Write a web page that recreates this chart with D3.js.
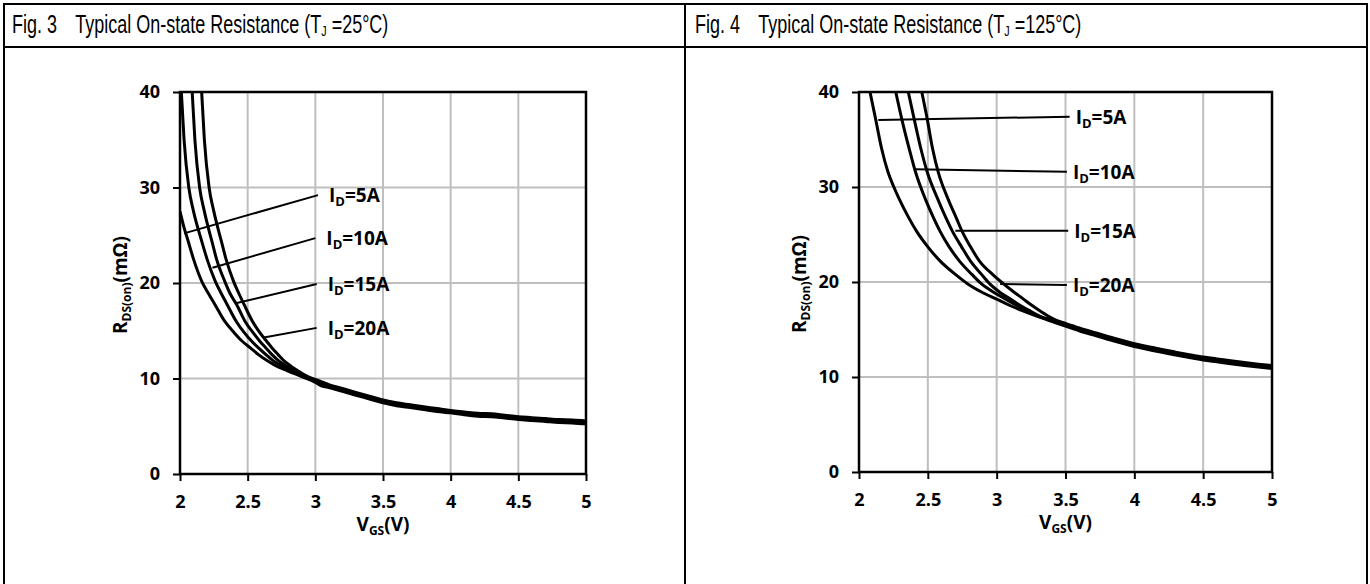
<!doctype html>
<html>
<head>
<meta charset="UTF-8">
<title>Typical On-state Resistance</title>
<script src="https://cdn.jsdelivr.net/npm/d3@7"></script>
<style>
body { margin: 0; background: #fff; }
.tick text { font-family: "Open Sans", sans-serif; font-weight: bold; font-size: 18px; fill: #000; }
.tick line { stroke: #000; stroke-width: 2; }
.grid line { stroke: #bfbfbf; stroke-width: 2; }
.curve { fill: none; stroke: #000; stroke-width: 3; stroke-linejoin: round; }
.leader { stroke: #000; stroke-width: 2; }
.lbl { font-family: "Open Sans", sans-serif; font-weight: bold; font-size: 19px; fill: #000; }
.head { font-family: "Liberation Sans", Arial, sans-serif; font-size: 25px; fill: #000; }
</style>
</head>
<body>
<svg id="page" width="1370" height="584"></svg>
<script>
var xTicks = [2, 2.5, 3, 3.5, 4, 4.5, 5];
var yTicks = [0, 10, 20, 30, 40];
var currents = ["5A", "10A", "15A", "20A"];

// Fig. 3, TJ = 25°C : [VGS, RDS(on)]
var fig3_5A = [[2.0,27.5],[2.03,25.8],[2.06,24.4],[2.1,22.5],[2.16,20.2],[2.21,18.9],[2.26,17.7],[2.33,16.0],[2.4,14.8],[2.46,13.9],[2.52,13.2],[2.58,12.5],[2.64,11.9],[2.7,11.4],[2.76,11.0],[2.83,10.6],[2.9,10.2],[3.0,9.6],[3.05,9.2],[3.1,9.05],[3.2,8.65],[3.3,8.25],[3.4,7.85],[3.5,7.45],[3.6,7.15],[3.7,6.95],[3.8,6.75],[3.9,6.55],[4.0,6.4],[4.1,6.2],[4.2,6.05],[4.3,6.0],[4.4,5.85],[4.5,5.7],[4.6,5.6],[4.7,5.5],[4.8,5.4],[4.9,5.35],[5.0,5.25]];
var fig3_10A = [[2.01,40],[2.03,35],[2.065,30],[2.1,27.5],[2.16,24.4],[2.2,22.5],[2.26,20.2],[2.305,18.9],[2.35,17.7],[2.415,16.0],[2.475,14.8],[2.53,13.9],[2.58,13.2],[2.635,12.5],[2.685,11.9],[2.74,11.4],[2.79,11.0],[2.855,10.6],[2.915,10.2],[3.01,9.65],[3.1,9.15],[3.2,8.75],[3.3,8.35],[3.4,7.95],[3.5,7.55],[3.6,7.25],[3.7,7.05],[3.8,6.85],[3.9,6.65],[4.0,6.5],[4.1,6.3],[4.2,6.15],[4.3,6.1],[4.4,5.95],[4.5,5.8],[4.6,5.7],[4.7,5.6],[4.8,5.5],[4.9,5.45],[5.0,5.35]];
var fig3_15A = [[2.09,40],[2.11,35],[2.145,30],[2.18,27.5],[2.235,24.4],[2.27,22.5],[2.33,20.2],[2.37,18.9],[2.42,17.7],[2.48,16.0],[2.54,14.8],[2.59,13.9],[2.635,13.2],[2.68,12.5],[2.725,11.9],[2.775,11.4],[2.82,11.0],[2.875,10.6],[2.93,10.2],[3.02,9.7],[3.1,9.25],[3.2,8.85],[3.3,8.45],[3.4,8.05],[3.5,7.65],[3.6,7.35],[3.7,7.15],[3.8,6.95],[3.9,6.75],[4.0,6.6],[4.1,6.4],[4.2,6.25],[4.3,6.25],[4.4,6.05],[4.5,5.9],[4.6,5.8],[4.7,5.7],[4.8,5.6],[4.9,5.55],[5.0,5.45]];
var fig3_20A = [[2.16,40],[2.18,35],[2.215,30],[2.25,27.5],[2.305,24.4],[2.34,22.5],[2.395,20.2],[2.435,18.9],[2.475,17.7],[2.535,16.0],[2.59,14.8],[2.64,13.9],[2.68,13.2],[2.725,12.5],[2.765,11.9],[2.81,11.4],[2.85,11.0],[2.895,10.6],[2.945,10.2],[3.03,9.75],[3.1,9.35],[3.2,8.95],[3.3,8.55],[3.4,8.15],[3.5,7.75],[3.6,7.45],[3.7,7.25],[3.8,7.05],[3.9,6.85],[4.0,6.65],[4.1,6.5],[4.2,6.35],[4.3,6.3],[4.4,6.15],[4.5,6.0],[4.6,5.9],[4.7,5.8],[4.8,5.7],[4.9,5.65],[5.0,5.55]];
// leader lines: point on curve -> point next to the label
var fig3_leaders = [[[2.03,25.2],[3.02,29.2]], [[2.24,21.6],[3.0,24.7]], [[2.42,17.9],[3.01,19.9]], [[2.62,14.3],[3.01,15.3]]];

// Fig. 4, TJ = 125°C
var fig4_5A = [[2.08,40],[2.12,37.2],[2.165,34],[2.21,31.6],[2.25,30.1],[2.29,28.8],[2.36,26.8],[2.42,25.3],[2.5,23.7],[2.59,22.2],[2.7,20.8],[2.79,19.8],[2.89,18.95],[3.0,18.2],[3.1,17.5],[3.2,16.9],[3.3,16.35],[3.4,15.85],[3.5,15.35],[3.6,14.87],[3.7,14.43],[3.8,14.0],[3.9,13.6],[4.0,13.2],[4.1,12.9],[4.2,12.6],[4.3,12.32],[4.4,12.05],[4.5,11.8],[4.6,11.6],[4.7,11.4],[4.8,11.22],[4.9,11.05],[5.0,10.9]];
var fig4_10A = [[2.267,40],[2.31,37.2],[2.365,34],[2.41,31.6],[2.48,28.8],[2.54,26.8],[2.59,25.3],[2.655,23.7],[2.73,22.2],[2.82,20.8],[2.89,19.8],[2.975,18.95],[3.065,18.2],[3.15,17.5],[3.235,16.9],[3.32,16.3],[3.4,15.95],[3.5,15.45],[3.6,14.97],[3.7,14.53],[3.8,14.1],[3.9,13.7],[4.0,13.3],[4.1,13.0],[4.2,12.7],[4.3,12.42],[4.4,12.15],[4.5,11.9],[4.6,11.7],[4.7,11.5],[4.8,11.32],[4.9,11.15],[5.0,11.0]];
var fig4_15A = [[2.358,40],[2.4,37.2],[2.45,34],[2.495,31.6],[2.57,28.8],[2.63,26.8],[2.68,25.3],[2.745,23.7],[2.81,22.2],[2.89,20.8],[2.95,19.8],[3.02,18.95],[3.1,18.2],[3.175,17.5],[3.25,16.9],[3.33,16.3],[3.4,16.05],[3.5,15.55],[3.6,15.07],[3.7,14.63],[3.8,14.2],[3.9,13.8],[4.0,13.4],[4.1,13.1],[4.2,12.8],[4.3,12.52],[4.4,12.25],[4.5,12.0],[4.6,11.8],[4.7,11.6],[4.8,11.42],[4.9,11.25],[5.0,11.1]];
var fig4_20A = [[2.456,40],[2.495,37.2],[2.535,34],[2.575,31.6],[2.645,28.8],[2.705,26.8],[2.75,25.3],[2.81,23.7],[2.875,22.2],[2.97,20.8],[3.05,19.8],[3.12,19.0],[3.19,18.25],[3.25,17.6],[3.31,17.0],[3.37,16.45],[3.43,16.0],[3.5,15.65],[3.6,15.17],[3.7,14.73],[3.8,14.3],[3.9,13.9],[4.0,13.5],[4.1,13.2],[4.2,12.9],[4.3,12.62],[4.4,12.35],[4.5,12.1],[4.6,11.9],[4.7,11.7],[4.8,11.52],[4.9,11.35],[5.0,11.2]];
var fig4_leaders = [[[2.14,37.05],[3.53,37.4]], [[2.407,31.86],[3.51,31.6]], [[2.70,25.4],[3.52,25.4]], [[3.025,19.79],[3.51,19.68]]];

var svg = d3.select("#page");

// table frame
svg.append("rect").attr("x", 0).attr("y", 0).attr("width", 1370).attr("height", 584).attr("fill", "#fff");
var frame = svg.append("g").attr("stroke", "#000").attr("stroke-width", 2);
frame.append("line").attr("x1", 3).attr("x2", 1368).attr("y1", 4).attr("y2", 4);
frame.append("line").attr("x1", 3).attr("x2", 1368).attr("y1", 47).attr("y2", 47);
frame.append("line").attr("x1", 4).attr("x2", 4).attr("y1", 3).attr("y2", 584);
frame.append("line").attr("x1", 685).attr("x2", 685).attr("y1", 3).attr("y2", 584);
frame.append("line").attr("x1", 1367).attr("x2", 1367).attr("y1", 3).attr("y2", 584);

// cell headings, the original font is a narrow Arial
function header(x0, num, temp) {
  var h = svg.append("g").attr("transform", "translate(" + x0 + ",33) scale(0.72,1)");
  h.append("text").attr("class", "head").attr("x", 0).attr("y", 0).text("Fig. " + num);
  var t = h.append("text").attr("class", "head").attr("x", 88).attr("y", 0);
  t.append("tspan").text("Typical On-state Resistance (T");
  t.append("tspan").attr("font-size", 15).attr("dy", 3).text("J");
  t.append("tspan").attr("dy", -3).text(" =" + temp + "°C)");
}
header(12, 3, "25");
header(695, 4, "125");

function createChart(cfg) {
  var x = d3.scaleLinear().domain([2, 5]).range([cfg.left, cfg.right]);
  var y = d3.scaleLinear().domain([0, 40]).range([cfg.bottom, cfg.top]);
  var g = svg.append("g");

  // gridlines
  var grid = g.append("g").attr("class", "grid");
  grid.selectAll("line.v").data(xTicks).enter().append("line").attr("class", "v")
    .attr("x1", function(d) { return x(d); }).attr("x2", function(d) { return x(d); })
    .attr("y1", y(0)).attr("y2", y(40));
  grid.selectAll("line.h").data(yTicks).enter().append("line").attr("class", "h")
    .attr("x1", x(2)).attr("x2", x(5))
    .attr("y1", function(d) { return y(d); }).attr("y2", function(d) { return y(d); });

  // axes (ticks only, the frame is drawn below)
  var xAxis = d3.axisBottom(x).tickValues(xTicks).tickSize(7).tickPadding(14).tickFormat(d3.format("~g"));
  var yAxis = d3.axisLeft(y).tickValues(yTicks).tickSize(7).tickPadding(13);
  g.append("g").attr("transform", "translate(0," + y(0) + ")").call(xAxis).call(function(s) { s.select(".domain").remove(); });
  g.append("g").attr("transform", "translate(" + x(2) + ",0)").call(yAxis).call(function(s) { s.select(".domain").remove(); });
  g.selectAll(".tick text").attr("font-family", null).attr("font-size", null);

  var clipId = "clip" + cfg.num;
  svg.append("clipPath").attr("id", clipId).append("rect")
    .attr("x", x(2)).attr("y", y(40)).attr("width", x(5) - x(2)).attr("height", y(0) - y(40));

  var line = d3.line().x(function(d) { return x(d[0]); }).y(function(d) { return y(d[1]); }).curve(d3.curveMonotoneX);
  g.append("g").attr("clip-path", "url(#" + clipId + ")")
    .selectAll("path").data(cfg.series).enter().append("path")
    .attr("class", "curve").attr("d", line);

  // plot border
  g.append("rect").attr("x", x(2)).attr("y", y(40)).attr("width", x(5) - x(2)).attr("height", y(0) - y(40))
    .attr("fill", "none").attr("stroke", "#000").attr("stroke-width", 2.5);

  // leaders + labels
  g.selectAll("line.leader").data(cfg.leaders).enter().append("line").attr("class", "leader")
    .attr("x1", function(d) { return x(d[0][0]); }).attr("y1", function(d) { return y(d[0][1]); })
    .attr("x2", function(d) { return x(d[1][0]); }).attr("y2", function(d) { return y(d[1][1]); });
  var lbl = g.selectAll("text.lbl").data(cfg.leaders).enter().append("text").attr("class", "lbl")
    .attr("x", function(d) { return x(d[1][0]) + cfg.labelDx; })
    .attr("y", function(d) { return y(d[1][1]) + 7; });
  lbl.append("tspan").text("I");
  lbl.append("tspan").attr("font-size", 13).attr("dy", 4).text("D");
  lbl.append("tspan").attr("dy", -4).text(function(d, i) { return "=" + currents[i]; });

  // axis titles
  var xt = g.append("text").attr("class", "lbl").attr("font-size", 18)
    .attr("x", (x(2) + x(5)) / 2).attr("y", cfg.bottom + 57).attr("text-anchor", "middle");
  xt.append("tspan").text("V");
  xt.append("tspan").attr("font-size", 12).attr("dy", 4).text("GS");
  xt.append("tspan").attr("dy", -4).text("(V)");

  var yt = g.append("text").attr("class", "lbl").attr("font-size", 18).attr("text-anchor", "middle")
    .attr("transform", "translate(" + (x(2) - 53) + "," + ((cfg.top + cfg.bottom) / 2 + 2) + ") rotate(-90)");
  yt.append("tspan").text("R");
  yt.append("tspan").attr("font-size", 12).attr("dy", 4).text("DS(on)");
  yt.append("tspan").attr("dy", -4).text("(mΩ)");
}

createChart({num: 3, left: 180, right: 586, top: 92, bottom: 474, labelDx: 11,
  series: [fig3_5A, fig3_10A, fig3_15A, fig3_20A], leaders: fig3_leaders});
createChart({num: 4, left: 859, right: 1272, top: 92, bottom: 472, labelDx: 6,
  series: [fig4_5A, fig4_10A, fig4_15A, fig4_20A], leaders: fig4_leaders});
</script>
</body>
</html>
